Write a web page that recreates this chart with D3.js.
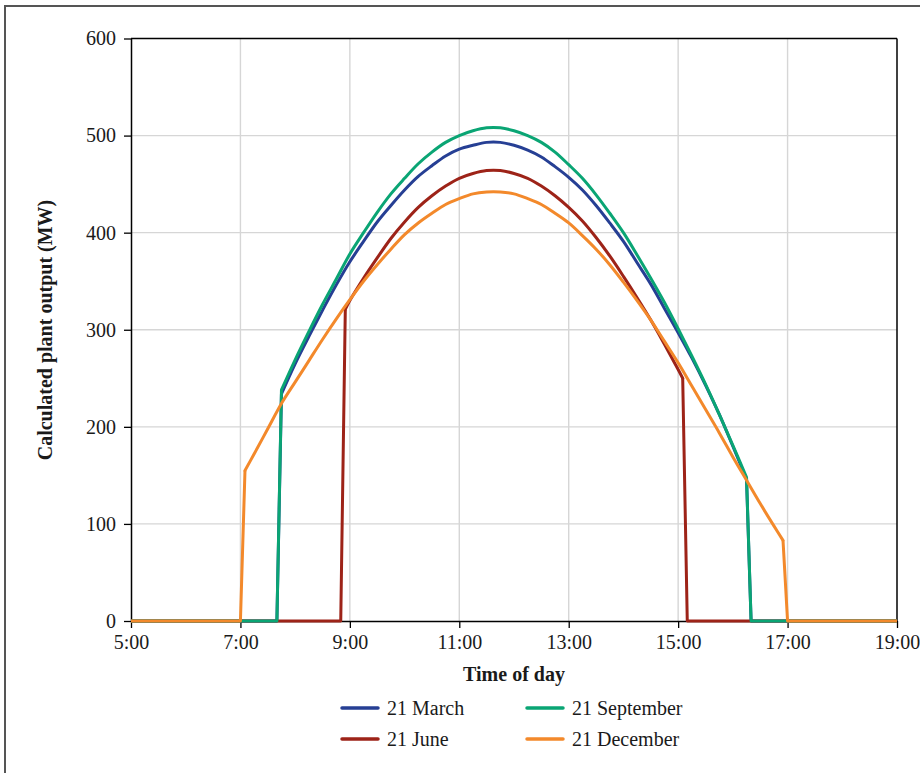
<!DOCTYPE html>
<html><head><meta charset="utf-8">
<script src="https://cdn.jsdelivr.net/npm/d3@7"></script>
<style>
body{margin:0;background:#fff}
svg{display:block}
text{font-family:"Liberation Serif","Times New Roman",serif;fill:#1a1a1a}
</style>
</head><body>
<svg id="c" width="920" height="773"></svg>
<script>
// ---------- data ----------
const xTickLabels = ["5:00","7:00","9:00","11:00","13:00","15:00","17:00","19:00"];
const yTickValues = [0,100,200,300,400,500,600];
const seriesNames = ["21 March","21 June","21 September","21 December"];
const seriesColors = ["#263f94","#9d2318","#0aa574","#f3892b"];

const marchTimes = ["5:00","7:40","7:45","8:00","8:15","8:30","8:45","9:00","9:15","9:30","9:45","10:00","10:15","10:30","10:45","11:00","11:15","11:30","11:45","12:00","12:15","12:30","12:45","13:00","13:15","13:30","13:45","14:00","14:15","14:30","14:45","15:00","15:15","15:30","15:45","16:00","16:15","16:20","19:00"];
const marchValues = [0,0,234,265,293,320,346,370,391,411,428,444,458,469,479,486,490,493,493,490,485,478,468,457,444,428,410,391,369,347,322,297,271,243,213,180,146,0,0];

const juneTimes = ["5:00","8:50","8:55","9:00","9:15","9:30","9:45","10:00","10:15","10:30","10:45","11:00","11:15","11:30","11:45","12:00","12:15","12:30","12:45","13:00","13:15","13:30","13:45","14:00","14:15","14:30","14:45","15:00","15:05","15:10","19:00"];
const juneValues = [0,0,321,330,353,374,394,411,426,438,448,456,461,464,464,461,456,448,438,426,412,395,376,355,333,310,285,259,250,0,0];

const septemberTimes = ["5:00","7:40","7:45","8:00","8:15","8:30","8:45","9:00","9:15","9:30","9:45","10:00","10:15","10:30","10:45","11:00","11:15","11:30","11:45","12:00","12:15","12:30","12:45","13:00","13:15","13:30","13:45","14:00","14:15","14:30","14:45","15:00","15:15","15:30","15:45","16:00","16:15","16:20","19:00"];
const septemberValues = [0,0,238,269,298,326,352,378,400,421,440,456,471,483,493,500,505,508,508,505,500,493,483,470,456,439,420,400,377,353,328,301,273,244,213,181,148,0,0];

const decemberTimes = ["5:00","7:00","7:05","7:15","7:30","7:45","8:00","8:15","8:30","8:45","9:00","9:15","9:30","9:45","10:00","10:15","10:30","10:45","11:00","11:15","11:30","11:45","12:00","12:15","12:30","12:45","13:00","13:15","13:30","13:45","14:00","14:15","14:30","14:45","15:00","15:15","15:30","15:45","16:00","16:15","16:30","16:45","16:55","17:00","19:00"];
const decemberValues = [0,0,155,172,198,224,246,268,290,311,331,350,367,383,398,410,420,429,435,440,442,442,440,435,429,420,410,397,383,367,349,330,310,288,266,242,218,194,169,145,121,98,83,0,0];

// ---------- setup ----------
const svg = d3.select("#c");
const W = 920, H = 773;
const m = {left:131, right:897, top:38.5, bottom:621};
const toHours = s => { const [h,mm] = s.split(":").map(Number); return h + mm/60; };

const x = d3.scaleLinear().domain([5,19]).range([m.left, m.right]);
const y = d3.scaleLinear().domain([0,600]).range([m.bottom, m.top]);

// outer frame
svg.append("rect").attr("x",5).attr("y",6).attr("width",W+20).attr("height",H+20)
  .attr("fill","none").attr("stroke","#555").attr("stroke-width",2);

// gridlines
const xTickVals = xTickLabels.map(toHours);
svg.append("g").selectAll("line").data(xTickVals.slice(1,-1)).join("line")
  .attr("x1",d=>x(d)).attr("x2",d=>x(d)).attr("y1",m.top).attr("y2",m.bottom)
  .attr("stroke","#d6d6d6").attr("stroke-width",1.4);
svg.append("g").selectAll("line").data(yTickValues.slice(1,-1)).join("line")
  .attr("x1",m.left).attr("x2",m.right).attr("y1",d=>y(d)).attr("y2",d=>y(d))
  .attr("stroke","#d6d6d6").attr("stroke-width",1.4);

// plot border (top & right)
svg.append("line").attr("x1",m.left).attr("x2",m.right).attr("y1",m.top).attr("y2",m.top)
  .attr("stroke","#000").attr("stroke-width",1.5);
svg.append("line").attr("x1",m.right).attr("x2",m.right).attr("y1",m.top).attr("y2",m.bottom)
  .attr("stroke","#000").attr("stroke-width",1.5);

// axes
const xAxis = d3.axisBottom(x).tickValues(xTickVals).tickFormat((d,i)=>xTickLabels[i]).tickSize(7).tickSizeOuter(0);
const gx = svg.append("g").attr("transform",`translate(0,${m.bottom})`).call(xAxis);
gx.select(".domain").attr("stroke","#000").attr("stroke-width",1.5);
gx.selectAll(".tick line").attr("stroke","#000").attr("stroke-width",1.3);
gx.selectAll(".tick text").attr("font-size",20).attr("y",28).attr("dy","0").attr("fill","#1a1a1a")
  .style("font-family",'"Liberation Serif",serif');

const yAxis = d3.axisLeft(y).tickValues(yTickValues).tickSize(7).tickSizeOuter(0).tickPadding(8);
const gy = svg.append("g").attr("transform",`translate(${m.left},0)`).call(yAxis);
gy.select(".domain").attr("stroke","#000").attr("stroke-width",1.5);
gy.selectAll(".tick line").attr("stroke","#000").attr("stroke-width",1.3);
gy.selectAll(".tick text").attr("font-size",20).attr("fill","#1a1a1a")
  .style("font-family",'"Liberation Serif",serif');

// axis titles
svg.append("text").attr("x",514).attr("y",681).attr("text-anchor","middle")
  .attr("font-size",20).attr("font-weight","bold").text("Time of day");
svg.append("text").attr("transform",`translate(52,330) rotate(-90)`).attr("text-anchor","middle")
  .attr("font-size",20).attr("font-weight","bold").text("Calculated plant output (MW)");

// series: straight segments for the switch-on/off steps, smooth curve for the daytime arc
const seriesTimes = [marchTimes, juneTimes, septemberTimes, decemberTimes];
const seriesValues = [marchValues, juneValues, septemberValues, decemberValues];
const lineLin = d3.line().x(d=>x(d[0])).y(d=>y(d[1]));
const lineSmooth = d3.line().x(d=>x(d[0])).y(d=>y(d[1])).curve(d3.curveCatmullRom.alpha(0.5));
[0,1,2,3].forEach(i=>{
  const pts = seriesTimes[i].map((t,k)=>[toHours(t), seriesValues[i][k]]);
  const first = pts.findIndex(p=>p[1]>0);
  let last = pts.length-1; while(pts[last][1]<=0) last--;
  const g = svg.append("g").attr("fill","none").attr("stroke",seriesColors[i])
    .attr("stroke-width",3).attr("stroke-linejoin","round").attr("stroke-linecap","round");
  g.append("path").datum(pts.slice(0,first+1)).attr("d",lineLin).attr("stroke-linecap","butt");
  g.append("path").datum(pts.slice(first,last+1)).attr("d",lineSmooth);
  g.append("path").datum(pts.slice(last)).attr("d",lineLin).attr("stroke-linecap","butt");
});

// legend
const legendPos = [[342,708],[342,739],[527,708],[527,739]];
seriesNames.forEach((n,i)=>{
  const [lx,ly] = legendPos[i];
  svg.append("line").attr("x1",lx).attr("x2",lx+36).attr("y1",ly).attr("y2",ly)
    .attr("stroke",seriesColors[i]).attr("stroke-width",3.5).attr("stroke-linecap","round");
  svg.append("text").attr("x",lx+45).attr("y",ly+7).attr("font-size",20).text(n);
});
</script>
</body></html>
